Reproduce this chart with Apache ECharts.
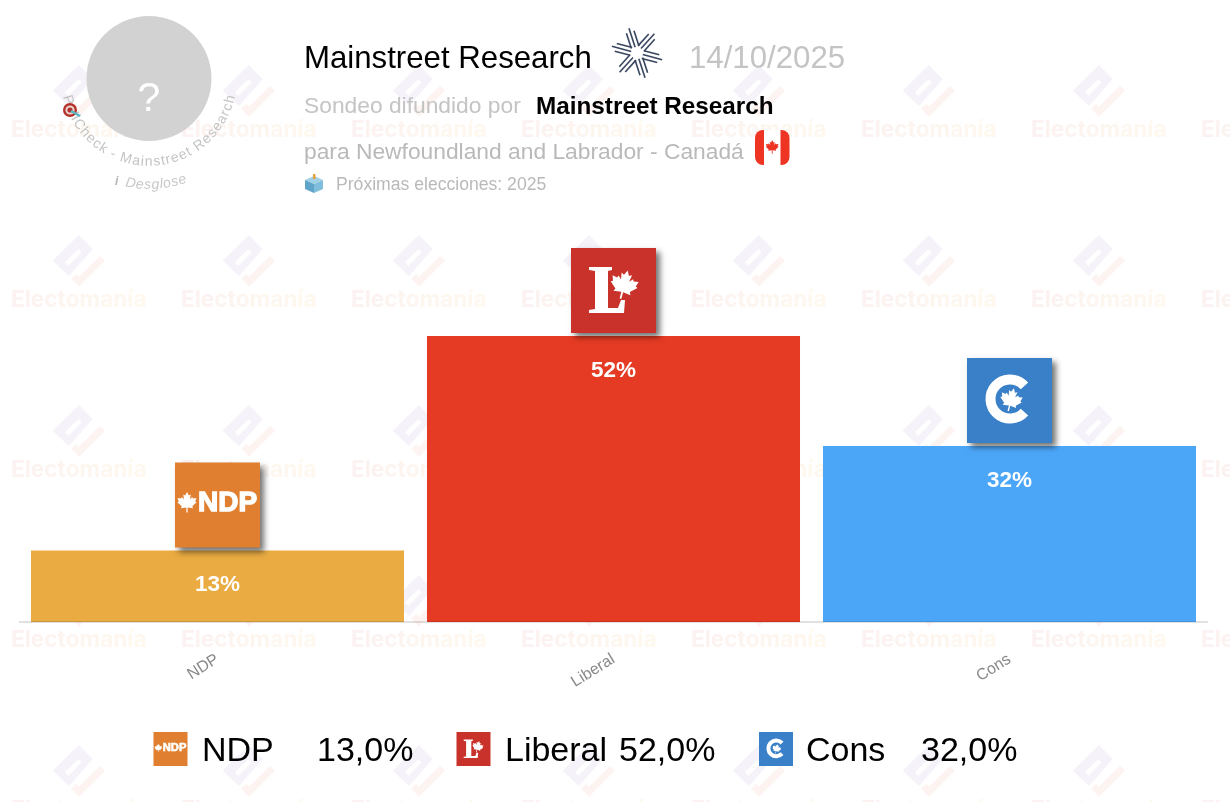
<!DOCTYPE html>
<html><head><meta charset="utf-8">
<style>html,body{margin:0;padding:0;background:#fff}#c{width:1230px;height:802px}</style>
<script src="https://cdn.jsdelivr.net/npm/echarts@6/dist/echarts.min.js"></script>
</head><body><div id="c"></div>
<script>
const categories = ['NDP','Liberal','Cons'];
const values = [13,52,32];
const barColors = ['#E9AB42','#E53B24','#4CA6F8'];
const logoColors = ['#E07F2F','#C8322B','#3A80C8'];
const pollster = 'Mainstreet Research';
const pollDate = '14/10/2025';
const lineSpread = 'Sondeo difundido por';
const lineClient = 'para Newfoundland and Labrador - Canadá';
const lineNext = 'Próximas elecciones: 2025';
const arcTitle = 'PollCheck - Mainstreet Research';
const arcSub = 'Desglose';
const watermark = 'Electomanía';
const FONT = '"Liberation Sans", Arial, sans-serif';

const halfLeaf = [[0,-1],[.17,-.66],[.36,-.76],[.28,-.3],[.5,-.52],[.56,-.38],[.9,-.44],[.78,-.1],[.92,-.02],[.5,.36],[.58,.55],[.06,.48],[.06,.95]];
function leaf(cx,cy,r,rot,fill){
  const all = halfLeaf.concat(halfLeaf.slice().reverse().map(p=>[-p[0],p[1]]));
  const c=Math.cos(rot), s=Math.sin(rot);
  return {type:'polygon',shape:{points:all.map(p=>[cx+r*(p[0]*c-p[1]*s),cy+r*(p[0]*s+p[1]*c)])},style:{fill}};
}
function logoMarks(i){
  const w='#fff';
  if(i===0) return [
    leaf(12,40,10.5,0,w),
    {type:'text',style:{text:'NDP',x:23,y:41,fill:w,stroke:w,lineWidth:1.4,font:'bold 28px "Liberation Sans"',textAlign:'left',textVerticalAlign:'middle'}}
  ];
  if(i===1) return [
    {type:'polygon',shape:{points:[[18,19],[41,19],[41,22],[37,23],[37,60],[47,60],[50,52],[54,52],[53,65],[18,65],[18,62],[24,61],[24,23],[18,22]]},style:{fill:w}},
    leaf(53,37,15,.25,w)
  ];
  return [
    {type:'arc',shape:{cx:43,cy:41,r:19.5,startAngle:42*Math.PI/180,endAngle:318*Math.PI/180,clockwise:true},style:{fill:'none',stroke:w,lineWidth:10}},
    leaf(44,42,12,.25,w)
  ];
}
const LOGO=85;

function renderLogo(params,api){
  const i=api.value(0);
  const p=api.coord([i,api.value(1)]);
  return {type:'group',x:p[0]-LOGO/2,y:p[1]-LOGO-3,children:[
    {type:'rect',shape:{x:0,y:0,width:LOGO,height:LOGO},style:{fill:logoColors[i],shadowColor:'rgba(0,0,0,0.55)',shadowBlur:6,shadowOffsetX:4,shadowOffsetY:4}}
  ].concat(logoMarks(i))};
}

const mc=document.createElement('canvas').getContext('2d');
const g=[];
// watermark tiles
function lerpColor(t){
  const a=[252,242,241],b=[254,249,238];
  return 'rgb('+a.map((v,k)=>Math.round(v+(b[k]-v)*t)).join(',')+')';
}
function wmLetters(){
  const font='bold 22.6px Inter';
  mc.font=font;
  const tot=mc.measureText(watermark).width;
  return [...watermark].map((ch,k)=>{
    const x=mc.measureText(watermark.slice(0,k)).width;
    return {type:'text',style:{text:ch,x:11+x,y:80.5,fill:lerpColor(x/tot),font,textVerticalAlign:'middle'}};
  });
}
for(let cx=0;cx<8;cx++)for(let ry=0;ry<5;ry++){
  const ox=170*cx, oy=50+170*ry;
  const pt=a=>a.map(q=>[q[0]/3,q[1]/3]);
  g.push({type:'group',x:ox,y:oy,z:0,silent:true,children:[
    {type:'polygon',shape:{points:pt([[237,45],[278,87],[207,168],[158,122]])},style:{fill:'#f5f2f9'}},
    {type:'polygon',shape:{points:pt([[235,88],[245,97],[205,137],[195,127]])},style:{fill:'#fff'}},
    {type:'polygon',shape:{points:pt([[300,108],[315,122],[237,200],[214,176],[228,162],[237,170]])},style:{fill:'#fdf4f2'}}
  ].concat(wmLetters())});
}
function T(text,x,y,size,fill,extra){
  g.push({type:'text',z:20,style:{text,x,y,fill,font:(extra&&extra.w||'')+' '+size+'px '+FONT,textVerticalAlign:'middle',textAlign:(extra&&extra.a)||'left'}});
}
// avatar
g.push({type:'circle',z:20,shape:{cx:149,cy:78.5,r:62.5},style:{fill:'#D2D2D2'}});
T('?',149,100,41,'#fff',{a:'center'});
// curved labels
function arcText(str,r,cx,cy,font,fill,letter,shift){
  mc.font=font;
  const ws=[...str].map(ch=>mc.measureText(ch).width+letter);
  const tot=ws.reduce((a,b)=>a+b,0);
  let s=-tot/2+shift;
  [...str].forEach((ch,k)=>{
    const mid=s+ws[k]/2; s+=ws[k];
    const ang=mid/r;            // 0 = straight down
    g.push({type:'text',z:20,x:cx+r*Math.sin(ang),y:cy+r*Math.cos(ang),rotation:ang,
      style:{text:ch,x:0,y:0,fill,font,textAlign:'center',textVerticalAlign:'middle'}});
  });
}
arcText(arcTitle,84,149,78,'14px '+FONT,'#c4c4c4',0.8,0);
arcText(arcSub,107,149,78,'italic 14px '+FONT,'#c8c8c8',0.4,7);
T('i',115,182,12,'#b5b5b5',{w:'italic bold'});
// target icon
g.push({type:'circle',z:21,shape:{cx:70,cy:110,r:7},style:{fill:'#B5322B'}});
g.push({type:'circle',z:21,shape:{cx:70,cy:110,r:4.6},style:{fill:'#EBD3D0'}});
g.push({type:'circle',z:21,shape:{cx:70,cy:110,r:2.6},style:{fill:'#B5322B'}});
g.push({type:'line',z:21,shape:{x1:71,y1:111,x2:80,y2:116},style:{stroke:'#55B7C5',lineWidth:2.2}});
// header
T(pollster,304,59.5,31.2,'#000');
T(pollDate,689,59.5,31.2,'#c4c4c4');
T(lineSpread,304,106.5,22.8,'#c4c4c4');
T(pollster,536,107.5,24.3,'#000',{w:'bold'});
T(lineClient,304,152.5,22.8,'#b9b9b9');
T(lineNext,336,185.5,17.6,'#b9b9b9');
// pollster star logo
const navy='#38465F';
[72,-48,15].forEach(deg=>{
  const a=deg*Math.PI/180,dx=Math.cos(a),dy=Math.sin(a),nx=-dy,ny=dx;
  [0,-4,4].forEach(o=>{
    const len=o===0?26:22;
    [[6,len],[-len,-6]].forEach(([s,e])=>{
      g.push({type:'line',z:20,shape:{x1:637+nx*o+dx*s,y1:53+ny*o+dy*s,x2:637+nx*o+dx*e,y2:53+ny*o+dy*e},style:{stroke:navy,lineWidth:1.6}});
    });
  });
});
// flag
g.push({type:'rect',z:20,shape:{x:755,y:130,width:34.5,height:35,r:8},style:{fill:'#EE3524'}});
g.push({type:'rect',z:20,shape:{x:764,y:130,width:16.5,height:35},style:{fill:'#fff'}});
g.push(Object.assign(leaf(772.2,147,7,0,'#EE3524'),{z:21}));
// ballot box
g.push({type:'polygon',z:20,shape:{points:[[305,180],[314,176],[323,180],[314,184]]},style:{fill:'#9FD0E6'}});
g.push({type:'polygon',z:20,shape:{points:[[305,180],[314,184],[314,193],[305,189]]},style:{fill:'#5FA5C9'}});
g.push({type:'polygon',z:20,shape:{points:[[323,180],[314,184],[314,193],[323,189]]},style:{fill:'#7FBDDB'}});
g.push({type:'rect',z:21,shape:{x:313,y:174,width:2.5,height:5},style:{fill:'#E9A23B'}});
// legend
const legendIconX=[153.5,456.5,759];
const legendNameX=[202,505,806];
const legendValX=[317,619,921];
categories.forEach((c,i)=>{
  g.push({type:'group',z:20,x:legendIconX[i],y:732,scaleX:.4,scaleY:.4,children:[
    {type:'rect',z:20,shape:{x:0,y:0,width:LOGO,height:LOGO},style:{fill:logoColors[i]}}
  ].concat(logoMarks(i).map(o=>Object.assign(o,{z:21})))});
  T(c,legendNameX[i],751.5,34,'#000');
  T(values[i].toFixed(1).replace('.',',')+'%',legendValX[i],751.5,34,'#000');
});

const chart=echarts.init(document.getElementById('c'),null,{renderer:'canvas'});
chart.setOption({
  animation:false,
  backgroundColor:'#fff',
  grid:{left:19.5,right:22.5,top:237,bottom:180,containLabel:false},
  xAxis:{type:'category',data:categories,z:5,
    axisLine:{show:true,lineStyle:{color:'rgba(0,0,0,0.16)',width:1.5}},
    axisTick:{show:false},
    axisLabel:{rotate:32,margin:36,color:'#888',fontSize:16,fontFamily:'Liberation Sans'}},
  yAxis:{type:'value',min:0,max:70,show:false,splitLine:{show:false}},
  series:[
    {type:'bar',barCategoryGap:'5.8%',z:2,
     data:values.map((v,i)=>({value:v,itemStyle:{color:barColors[i]}})),
     label:{show:true,position:'insideTop',distance:23,formatter:'{c}%',color:'#fff',fontWeight:'bold',fontSize:22.5,fontFamily:'Liberation Sans'}},
    {type:'custom',z:3,clip:false,renderItem:renderLogo,encode:{x:0,y:1},
     data:values.map((v,i)=>[i,v]),silent:true}
  ],
  graphic:{elements:g}
});
</script></body></html>
